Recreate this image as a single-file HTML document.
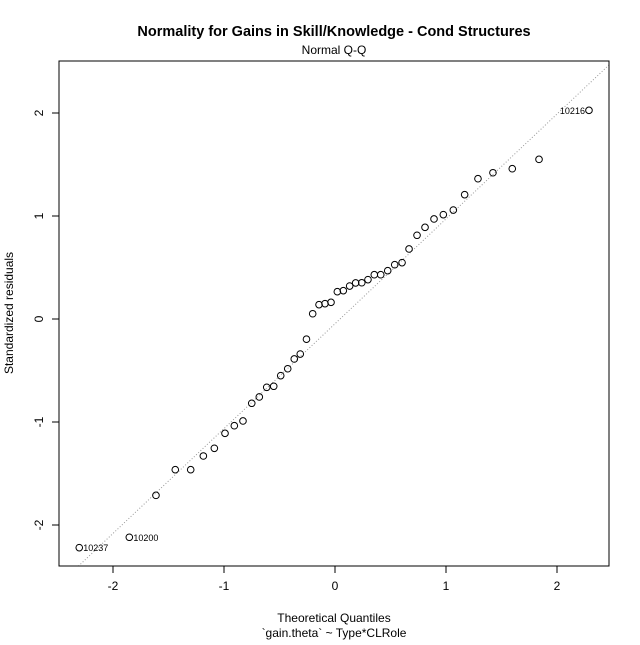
<!DOCTYPE html>
<html><head><meta charset="utf-8"><style>
body{margin:0;background:#fff}
svg text{font-family:"Liberation Sans",Arial,sans-serif;fill:#000}
</style></head><body>
<svg id="chart" width="640" height="640" xmlns="http://www.w3.org/2000/svg">
<rect width="640" height="640" fill="#fff"/>
<text x="334" y="36" font-size="14.5" font-weight="bold" text-anchor="middle">Normality for Gains in Skill/Knowledge - Cond Structures</text>
<text x="334" y="54" font-size="12" text-anchor="middle">Normal Q-Q</text>
<text x="334" y="622" font-size="12" text-anchor="middle">Theoretical Quantiles</text>
<text x="334" y="637" font-size="12" text-anchor="middle">`gain.theta` ~ Type*CLRole</text>
<text x="0" y="0" font-size="12" text-anchor="middle" transform="translate(13,313) rotate(-90)">Standardized residuals</text>
<g id="plot"></g>
</svg>
<script>
const xTicks=[-2,-1,0,1,2];
const yTicks=[-2,-1,0,1,2];
const theoretical=[-2.304,-1.853,-1.613,-1.439,-1.300,-1.186,-1.087,-0.991,-0.907,-0.829,-0.750,-0.682,-0.615,-0.552,-0.489,-0.426,-0.367,-0.313,-0.257,-0.201,-0.144,-0.090,-0.036,0.021,0.075,0.132,0.186,0.241,0.297,0.354,0.412,0.475,0.538,0.604,0.667,0.739,0.811,0.892,0.976,1.066,1.168,1.288,1.423,1.597,1.838,2.288];
const residuals=[-2.220,-2.119,-1.712,-1.463,-1.463,-1.330,-1.255,-1.110,-1.036,-0.990,-0.818,-0.757,-0.663,-0.653,-0.550,-0.483,-0.388,-0.340,-0.196,0.051,0.139,0.149,0.162,0.265,0.275,0.320,0.350,0.352,0.382,0.430,0.430,0.469,0.527,0.547,0.680,0.813,0.890,0.971,1.013,1.058,1.207,1.362,1.420,1.459,1.550,2.026];
const pointLabels={0:"10237",1:"10200",45:"10216"};
const lineIntercept=-0.046, lineSlope=1.018;
const NS="http://www.w3.org/2000/svg";
const X0=59,X1=609,Y0=61,Y1=566;
const sx=v=>335+v*111;
const sy=v=>319-v*103;
const g=document.getElementById('plot');
function mk(t,a){const e=document.createElementNS(NS,t);for(const k in a)e.setAttribute(k,a[k]);g.appendChild(e);return e;}
// reference line
const clip=mk('clipPath',{id:'pc'});const cr=document.createElementNS(NS,'rect');cr.setAttribute('x',X0);cr.setAttribute('y',Y0);cr.setAttribute('width',X1-X0);cr.setAttribute('height',Y1-Y0);clip.appendChild(cr);
const xa=-3,xb=3;
const ln=mk('line',{x1:sx(xa),y1:sy(lineIntercept+lineSlope*xa),x2:sx(xb),y2:sy(lineIntercept+lineSlope*xb),stroke:'#999','stroke-width':1,'stroke-dasharray':'1,2','clip-path':'url(#pc)'});


const box=mk('rect',{x:X0,y:Y0,width:X1-X0,height:Y1-Y0,fill:'none',stroke:'#000','stroke-width':1});


xTicks.forEach(t=>{
  const l=mk('line',{x1:sx(t),x2:sx(t),y1:Y1,y2:Y1+7,stroke:'#000'});
  
  
  const tx=mk('text',{x:sx(t),y:Y1+24,'font-size':12,'text-anchor':'middle'});tx.textContent=t;
  
  
});
yTicks.forEach(t=>{
  const l=mk('line',{x1:X0-7,x2:X0,y1:sy(t),y2:sy(t),stroke:'#000'});
  
  
  const tx=mk('text',{x:0,y:0,'font-size':12,'text-anchor':'middle',transform:`translate(${X0-16},${sy(t)}) rotate(-90)`});tx.textContent=t;
  
  
});
theoretical.forEach((v,i)=>{
  const c=mk('circle',{cx:sx(v),cy:sy(residuals[i]),r:3.3,fill:'none',stroke:'#000','stroke-width':1});
  
  
  if(pointLabels[i]){
    const right=i<2;
    const tx=mk('text',{x:sx(v)+(right?4:-4),y:sy(residuals[i])+3.5,'font-size':9,'text-anchor':right?'start':'end'});
    tx.textContent=pointLabels[i];
    
    
  }
});
</script>
</body></html>
